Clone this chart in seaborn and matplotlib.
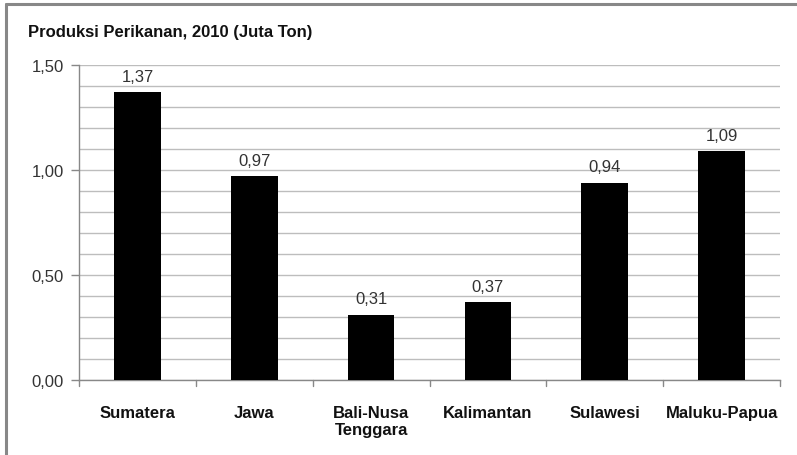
import matplotlib
matplotlib.use("Agg")
import matplotlib.pyplot as plt
from matplotlib.lines import Line2D
from matplotlib.ticker import MultipleLocator, FuncFormatter
import seaborn as sns
import pandas as pd

regions = ["Sumatera", "Jawa", "Bali-Nusa\nTenggara", "Kalimantan", "Sulawesi", "Maluku-Papua"]
production = [1.37, 0.97, 0.31, 0.37, 0.94, 1.09]
title = "Produksi Perikanan, 2010 (Juta Ton)"

sns.set_theme(style="white")
plt.rcParams["font.family"] = ["Liberation Sans", "DejaVu Sans"]

df = pd.DataFrame({"region": regions, "value": production})

fig = plt.figure(figsize=(7.97, 4.56), dpi=100)
ax = fig.add_axes([79 / 797, 1 - 381 / 456, (780 - 79) / 797, (381 - 66) / 456])

sns.barplot(data=df, x="region", y="value", color="black", width=0.4,
            edgecolor="black", linewidth=0, saturation=1, ax=ax, zorder=3)

ax.set_ylim(0, 1.5)
ax.set_xlim(-0.5, len(regions) - 0.5)
ax.yaxis.set_major_locator(MultipleLocator(0.5))
ax.yaxis.set_minor_locator(MultipleLocator(0.1))
ax.yaxis.set_major_formatter(FuncFormatter(lambda v, p: f"{v:.2f}".replace(".", ",")))
ax.grid(axis="y", which="both", color="#bdbdbd", linewidth=1.0, zorder=0)
ax.set_axisbelow(True)

for s in ["top", "right"]:
    ax.spines[s].set_visible(False)
for s in ["left", "bottom"]:
    ax.spines[s].set_color("#888888")
    ax.spines[s].set_linewidth(1.0)

ax.tick_params(axis="y", which="major", left=True, length=6, width=1, color="#888888",
               labelsize=12, labelcolor="#333333", pad=5)
ax.tick_params(axis="y", which="minor", left=False)
ax.set_xticks(range(len(regions)))
ax.set_xticklabels(regions, fontsize=12, fontweight="bold", color="#111111",
                   linespacing=1.2, va="top")
ax.tick_params(axis="x", bottom=False, pad=12)
# category boundary ticks along the x axis
for b in [i - 0.5 for i in range(len(regions) + 1)]:
    ax.plot([b, b], [0, -0.03], color="#888888", lw=1, clip_on=False,
            transform=ax.transData, zorder=4)

ax.set_xlabel("")
ax.set_ylabel("")

for i, v in enumerate(production):
    ax.text(i, v + 0.04, f"{v:.2f}".replace(".", ","), ha="center", va="bottom",
            fontsize=12, color="#333333")

fig.text(28 / 797, 1 - 33 / 456, title, fontsize=12, fontweight="bold",
         color="#111111", ha="left", va="center")

# frame around the chart
fig.add_artist(Line2D([5.5 / 797, 5.5 / 797], [0, 1 - 5 / 456], color="#888888", lw=2.2,
                      transform=fig.transFigure))
fig.add_artist(Line2D([5.5 / 797, 1], [1 - 5 / 456, 1 - 5 / 456], color="#888888", lw=2.2,
                      transform=fig.transFigure))

fig.savefig("out.png", dpi=100, facecolor="white")
